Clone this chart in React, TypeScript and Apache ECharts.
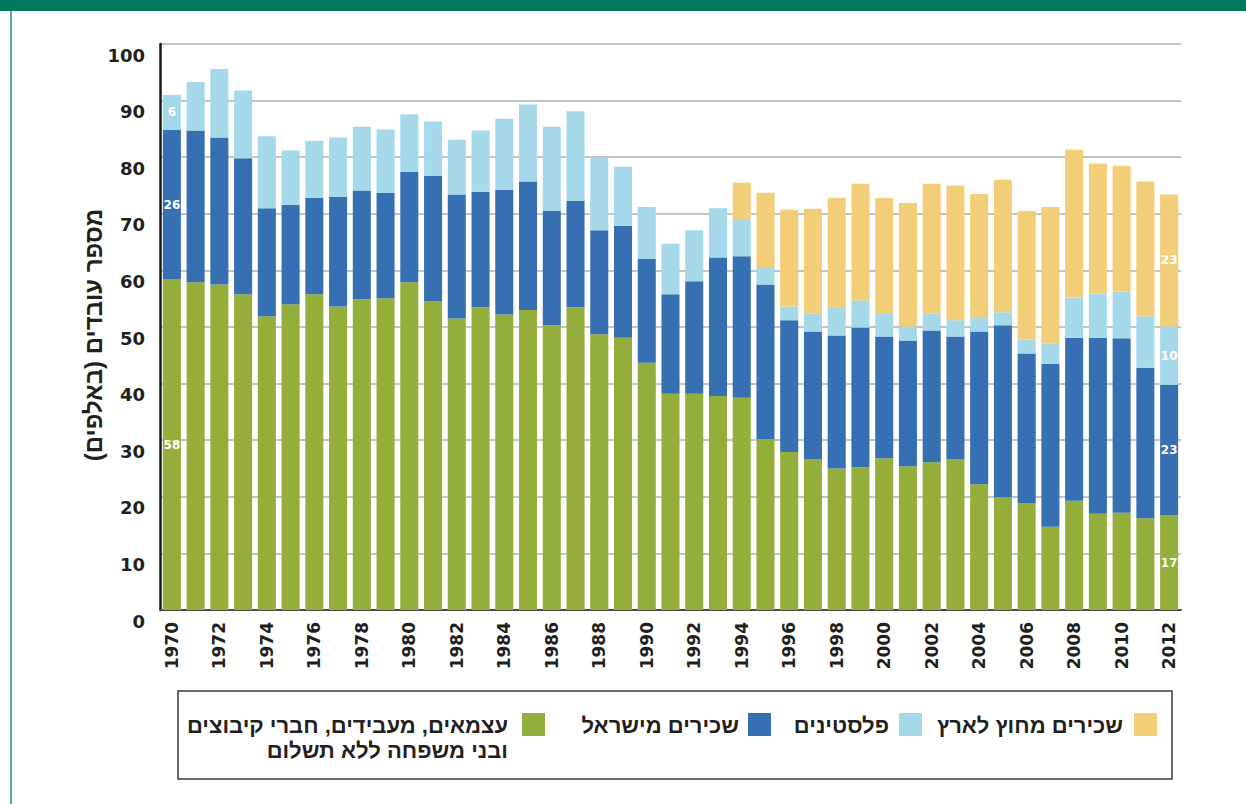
import React, { useEffect, useRef } from "react";
import * as echarts from "echarts";

const years = [
  "1970","1971","1972","1973","1974","1975","1976","1977","1978","1979",
  "1980","1981","1982","1983","1984","1985","1986","1987","1988","1989",
  "1990","1991","1992","1993","1994","1995","1996","1997","1998","1999",
  "2000","2001","2002","2003","2004","2005","2006","2007","2008","2009",
  "2010","2011","2012",
];

// עצמאים, מעבידים, חברי קיבוצים ובני משפחה ללא תשלום
const selfEmployed = [
  58.4, 57.9, 57.5, 55.8, 51.9, 54.0, 55.8, 53.6, 54.9, 55.1,
  57.9, 54.5, 51.5, 53.5, 52.2, 53.0, 50.3, 53.5, 48.7, 48.1,
  43.7, 38.2, 38.2, 37.8, 37.5, 30.2, 27.9, 26.6, 25.0, 25.2,
  26.8, 25.4, 26.1, 26.6, 22.2, 19.9, 18.8, 14.7, 19.3, 17.0,
  17.2, 16.2, 16.7,
];
// שכירים מישראל
const israeliEmployees = [
  26.4, 26.8, 26.0, 24.0, 19.1, 17.6, 17.0, 19.4, 19.2, 18.6,
  19.5, 22.2, 21.9, 20.4, 22.0, 22.7, 20.2, 18.8, 18.4, 19.8,
  18.3, 17.6, 19.9, 24.5, 25.0, 27.3, 23.3, 22.6, 23.5, 24.7,
  21.5, 22.2, 23.3, 21.7, 27.0, 30.4, 26.5, 28.8, 28.8, 31.1,
  30.8, 26.6, 23.1,
];
// פלסטינים
const palestinians = [
  6.2, 8.6, 12.1, 12.0, 12.7, 9.6, 10.1, 10.5, 11.3, 11.2,
  10.2, 9.6, 9.7, 10.8, 12.6, 13.6, 14.9, 15.8, 12.8, 10.4,
  9.2, 8.9, 9.0, 8.7, 6.4, 3.1, 2.4, 3.2, 5.0, 4.8,
  4.0, 2.5, 3.0, 2.9, 2.4, 2.3, 2.5, 3.6, 7.1, 7.8,
  8.3, 9.1, 10.3,
];
// שכירים מחוץ לארץ
const foreignWorkers = [
  0, 0, 0, 0, 0, 0, 0, 0, 0, 0,
  0, 0, 0, 0, 0, 0, 0, 0, 0, 0,
  0, 0, 0, 0, 6.6, 13.1, 17.1, 18.5, 19.3, 20.6,
  20.5, 21.8, 22.9, 23.8, 21.9, 23.4, 22.7, 24.1, 26.1, 23.0,
  22.2, 23.8, 23.3,
];

const yTicks = { min: 0, max: 100, interval: 10 };

const seriesNames = [
  "עצמאים, מעבידים, חברי קיבוצים ובני משפחה ללא תשלום",
  "שכירים מישראל",
  "פלסטינים",
  "שכירים מחוץ לארץ",
];
const seriesColors = ["#93ae3b", "#3670b3", "#a5d9e9", "#f3ce78"];
const yAxisTitle = "מספר עובדים (באלפים)\u200F";

const HEB_FONT = "'Liberation Sans', 'DejaVu Sans', sans-serif";
const NUM_FONT = "'DejaVu Sans', sans-serif";
const TEXT_COLOR = "#231f20";

function buildData(values: number[], labelled: boolean) {
  const last = values.length - 1;
  return values.map((v, i) => {
    const show = labelled && (i === 0 || i === last) && v > 0;
    return show ? { value: v, label: { show: true } } : { value: v };
  });
}

export default function App() {
  const ref = useRef<HTMLDivElement>(null);

  useEffect(() => {
    if (!ref.current) return;
    const chart = echarts.init(ref.current, undefined, { renderer: "svg" });
    const allSeries = [selfEmployed, israeliEmployees, palestinians, foreignWorkers];

    const legendItems = [
      { swatchX: 1134, textX: 1123, color: seriesColors[3], lines: ["שכירים מחוץ לארץ"] },
      { swatchX: 899, textX: 889, color: seriesColors[2], lines: ["פלסטינים"] },
      { swatchX: 748, textX: 739, color: seriesColors[1], lines: ["שכירים מישראל"] },
      {
        swatchX: 522,
        textX: 508,
        color: seriesColors[0],
        lines: ["עצמאים, מעבידים, חברי קיבוצים", "ובני משפחה ללא תשלום"],
      },
    ];

    const graphics: any[] = [
      { type: "rect", shape: { x: 0, y: 0, width: 1246, height: 11 }, style: { fill: "#00785c" }, silent: true },
      { type: "rect", shape: { x: 10, y: 11, width: 2, height: 793 }, style: { fill: "#5aab94" }, silent: true },
      {
        type: "rect",
        shape: { x: 178, y: 691, width: 994, height: 88 },
        style: { fill: "none", stroke: "#3a3a3a", lineWidth: 1.5 },
        silent: true,
      },
    ];
    legendItems.forEach((it) => {
      graphics.push({
        type: "rect",
        shape: { x: it.swatchX, y: 713, width: 23, height: 23 },
        style: { fill: it.color },
        silent: true,
      });
      it.lines.forEach((line, li) => {
        graphics.push({
          type: "text",
          x: it.textX,
          y: 725 + li * 25,
          style: {
            text: line + "\u200F",
            fill: TEXT_COLOR,
            font: `bold 22px ${HEB_FONT}`,
            align: "right",
            verticalAlign: "middle",
          },
          silent: true,
        });
      });
    });

    chart.setOption({
      animation: false,
      grid: { left: 160, right: 65, top: 44, bottom: 194, containLabel: false },
      graphic: graphics,
      xAxis: {
        type: "category",
        data: years,
        axisLine: { show: true, lineStyle: { color: "#4a4a4a", width: 2 } },
        axisTick: { show: false },
        axisLabel: {
          interval: 1,
          rotate: 90,
          margin: 12,
          fontFamily: NUM_FONT,
          fontWeight: "bold",
          fontSize: 17,
          color: TEXT_COLOR,
        },
      },
      yAxis: {
        type: "value",
        min: yTicks.min,
        max: yTicks.max,
        interval: yTicks.interval,
        name: yAxisTitle,
        nameLocation: "middle",
        nameRotate: 90,
        nameGap: 55,
        nameMoveOverlap: false,
        nameTextStyle: {
          fontFamily: HEB_FONT,
          fontWeight: "bold",
          fontSize: 24,
          color: TEXT_COLOR,
          padding: [0, 16, 0, 0],
        },
        axisLine: { show: true, lineStyle: { color: "#1a1a1a", width: 2.5 } },
        axisTick: { show: false },
        splitLine: { show: true, lineStyle: { color: "#b0b0b0", width: 1.5 } },
        axisLabel: {
          margin: 15,
          fontFamily: NUM_FONT,
          fontWeight: "bold",
          fontSize: 18,
          color: TEXT_COLOR,
          verticalAlign: "top",
          lineHeight: 22,
        },
      },
      series: allSeries.map((vals, si) => ({
        name: seriesNames[si],
        type: "bar",
        stack: "total",
        barCategoryGap: "24%",
        data: buildData(vals, true),
        itemStyle: { color: seriesColors[si] },
        label: {
          show: false,
          position: "inside",
          color: "#ffffff",
          fontFamily: NUM_FONT,
          fontWeight: "bold",
          fontSize: 12,
          formatter: (p: any) => String(Math.round(p.value)),
        },
      })),
    });

    return () => chart.dispose();
  }, []);

  return (
    <div
      ref={ref}
      style={{ position: "absolute", left: 0, top: 0, width: 1246, height: 804, background: "#ffffff" }}
    />
  );
}
